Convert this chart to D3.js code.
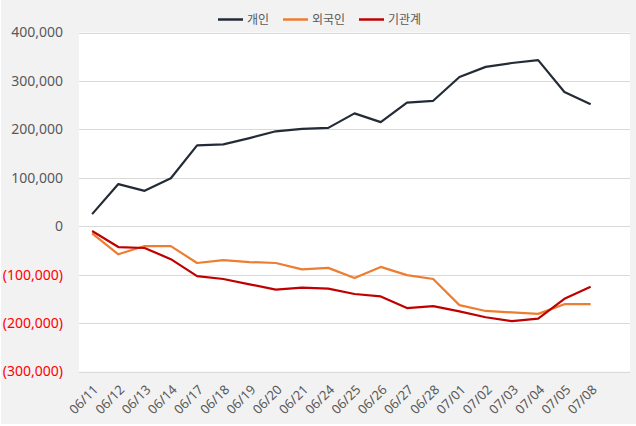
<!DOCTYPE html>
<html><head><meta charset="utf-8">
<script src="https://cdn.jsdelivr.net/npm/d3@7/dist/d3.min.js"></script>
<style>body{margin:0;background:#fff;}svg{display:block;}</style>
</head><body><svg id="c" width="636" height="426"></svg>
<script>
const dates = ["06/11","06/12","06/13","06/14","06/17","06/18","06/19","06/20","06/21","06/24","06/25","06/26","06/27","06/28","07/01","07/02","07/03","07/04","07/05","07/08"];
const individual = [25000,87000,73000,99000,167000,169000,182000,196000,201000,203000,233000,215000,255000,259000,308000,329000,337000,343000,277000,252000];
const foreign = [-15000,-58000,-41000,-41000,-76000,-70000,-74000,-76000,-89000,-86000,-107000,-84000,-101000,-109000,-163000,-175000,-178000,-181000,-161000,-161000];
const institution = [-10000,-43000,-45000,-68000,-103000,-109000,-120000,-131000,-127000,-129000,-140000,-145000,-169000,-165000,-176000,-188000,-196000,-191000,-150000,-125000];
const yTicks = [400000,300000,200000,100000,0,-100000,-200000,-300000];
const seriesNames = ["개인","외국인","기관계"];
const colors = ["#232b37","#ed7d31","#c00000"];

const svg = d3.select("#c");
const W = 636, H = 426;
const L = 79, R = 630, T = 32.5, B = 371.5;
svg.append("rect").attr("x",1).attr("y",0).attr("width",W-1).attr("height",H-2).attr("fill","#f2f2f2");
svg.append("rect").attr("x",L).attr("y",T).attr("width",R-L).attr("height",B-T).attr("fill","#fff");

const x = d3.scaleBand().domain(dates).range([L, L + (R-L)*20/21]);
const cx = d => x(d) + x.bandwidth()/2;
const y = d3.scaleLinear().domain([-300000,400000]).range([B,T]);

// gridlines
svg.append("g").selectAll("line").data(yTicks).join("line")
  .attr("x1",L).attr("x2",R).attr("y1",d=>Math.round(y(d))+0.5).attr("y2",d=>Math.round(y(d))+0.5)
  .attr("stroke","#d9d9d9").attr("stroke-width",1);

const fmt = d3.format(",");
const yAxis = d3.axisLeft(y).tickValues(yTicks).tickSize(0).tickPadding(0)
  .tickFormat(d => d < 0 ? "(" + fmt(-d) + ")" : fmt(d));
const ya = svg.append("g").attr("transform",`translate(${L-16},0)`).call(yAxis);
ya.select(".domain").remove();
ya.selectAll("text").attr("font-family","'Noto Sans', sans-serif").attr("font-size",14)
  .attr("fill",d => d < 0 ? "#ff0000" : "#595959");

const xAxis = d3.axisBottom(x).tickSize(0).tickPadding(0);
const xa = svg.append("g").attr("transform",`translate(0,${B})`).call(xAxis);
xa.select(".domain").remove();
xa.selectAll("text").attr("font-family","'Noto Sans', sans-serif").attr("font-size",13)
  .attr("fill","#595959").attr("text-anchor","end")
  .attr("dy",null).attr("y",0)
  .attr("transform","translate(7,19) rotate(-45)");

const data = [individual, foreign, institution];
const line = d3.line().x((d,i)=>cx(dates[i])).y(d=>y(d));
svg.append("g").selectAll("path").data(data).join("path")
  .attr("d", line).attr("fill","none").attr("stroke",(d,i)=>colors[i])
  .attr("stroke-width",2.2).attr("stroke-linejoin","round");

// legend
const legX = [218, 283, 359];
const lg = svg.append("g");
seriesNames.forEach((n,i)=>{
  lg.append("line").attr("x1",legX[i]).attr("x2",legX[i]+25).attr("y1",19.5).attr("y2",19.5)
    .attr("stroke",colors[i]).attr("stroke-width",2.5);
  lg.append("text").attr("x",legX[i]+29).attr("y",23.5).text(n)
    .attr("font-family","'Noto Sans CJK KR', sans-serif").attr("font-size",12).attr("fill","#595959");
});
</script></body></html>
